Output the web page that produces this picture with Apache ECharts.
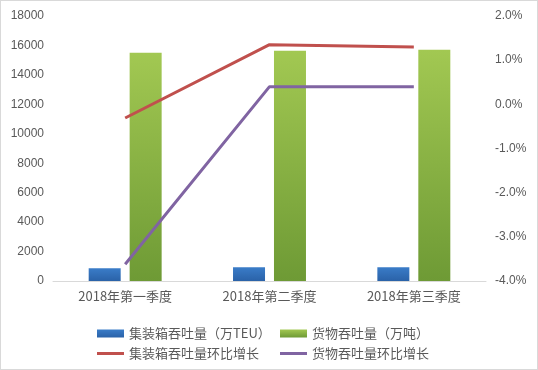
<!DOCTYPE html>
<html><head><meta charset="utf-8">
<script src="https://cdn.jsdelivr.net/npm/echarts@6/dist/echarts.min.js"></script>
<style>html,body{margin:0;padding:0;background:#fff}#c{width:538px;height:370px;box-sizing:border-box;border:1px solid #d9d9d9}</style>
</head><body><div id="c"></div>
<script>
var categories = ['2018年第一季度', '2018年第二季度', '2018年第三季度'];
var containerTEU = [860, 930, 940];
var cargoTons = [15510, 15640, 15710];
var containerGrowth = [-0.31, 1.35, 1.30];
var cargoGrowth = [-3.62, 0.40, 0.40];
var leftTicks = {min: 0, max: 18000, interval: 2000};
var rightTicks = {min: -4, max: 2, interval: 1};

var chart = echarts.init(document.getElementById('c'));
var txt = '#595959';
var font = '"Noto Sans CJK SC", sans-serif';
function lg(name, left, top, icon) {
  return {data: [name], left: left, top: top, itemWidth: 27, itemHeight: icon === 'line' ? 3 : 8,
    icon: 'rect', itemGap: 5,
    textStyle: {color: txt, fontSize: 13, fontFamily: font}};
}
chart.setOption({
  animation: false,
  legend: [
    lg('集装箱吞吐量（万TEU）', 91, 321, 'bar'),
    lg('货物吞吐量（万吨）', 274, 321, 'bar'),
    lg('集装箱吞吐量环比增长', 91, 341, 'line'),
    lg('货物吞吐量环比增长', 274, 341, 'line')
  ],
  grid: {left: 52, right: 51, top: 15, bottom: 88},
  xAxis: {type: 'category', data: categories,
    axisLine: {lineStyle: {color: '#d9d9d9'}}, axisTick: {show: false},
    axisLabel: {color: txt, fontSize: 13, fontFamily: font, margin: 9}},
  yAxis: [
    {type: 'value', min: leftTicks.min, max: leftTicks.max, interval: leftTicks.interval,
     splitLine: {show: false}, axisLine: {show: false}, axisTick: {show: false},
     axisLabel: {color: txt, fontSize: 12, fontFamily: 'Liberation Sans', margin: 9,
       formatter: function (v) { return String(v); }}},
    {type: 'value', min: rightTicks.min, max: rightTicks.max, interval: rightTicks.interval,
     splitLine: {show: false}, axisLine: {show: false}, axisTick: {show: false},
     axisLabel: {color: txt, fontSize: 12, fontFamily: 'Liberation Sans', margin: 9,
       formatter: function (v) { return v.toFixed(1) + '%'; }}}
  ],
  series: [
    {name: '集装箱吞吐量（万TEU）', type: 'bar', data: containerTEU, barWidth: 32, barGap: '28%',
     itemStyle: {color: new echarts.graphic.LinearGradient(0, 0, 0, 1, [{offset: 0, color: '#3A7CC8'}, {offset: 1, color: '#2A62A8'}])}},
    {name: '货物吞吐量（万吨）', type: 'bar', data: cargoTons, barWidth: 32,
     itemStyle: {color: new echarts.graphic.LinearGradient(0, 0, 0, 1, [{offset: 0, color: '#A2C852'}, {offset: 1, color: '#6E9A35'}])}},
    {name: '集装箱吞吐量环比增长', type: 'line', yAxisIndex: 1, data: containerGrowth,
     symbol: 'none', lineStyle: {color: '#C0504D', width: 3}, itemStyle: {color: '#C0504D'}},
    {name: '货物吞吐量环比增长', type: 'line', yAxisIndex: 1, data: cargoGrowth,
     symbol: 'none', lineStyle: {color: '#8064A2', width: 3}, itemStyle: {color: '#8064A2'}}
  ]
});
</script></body></html>
